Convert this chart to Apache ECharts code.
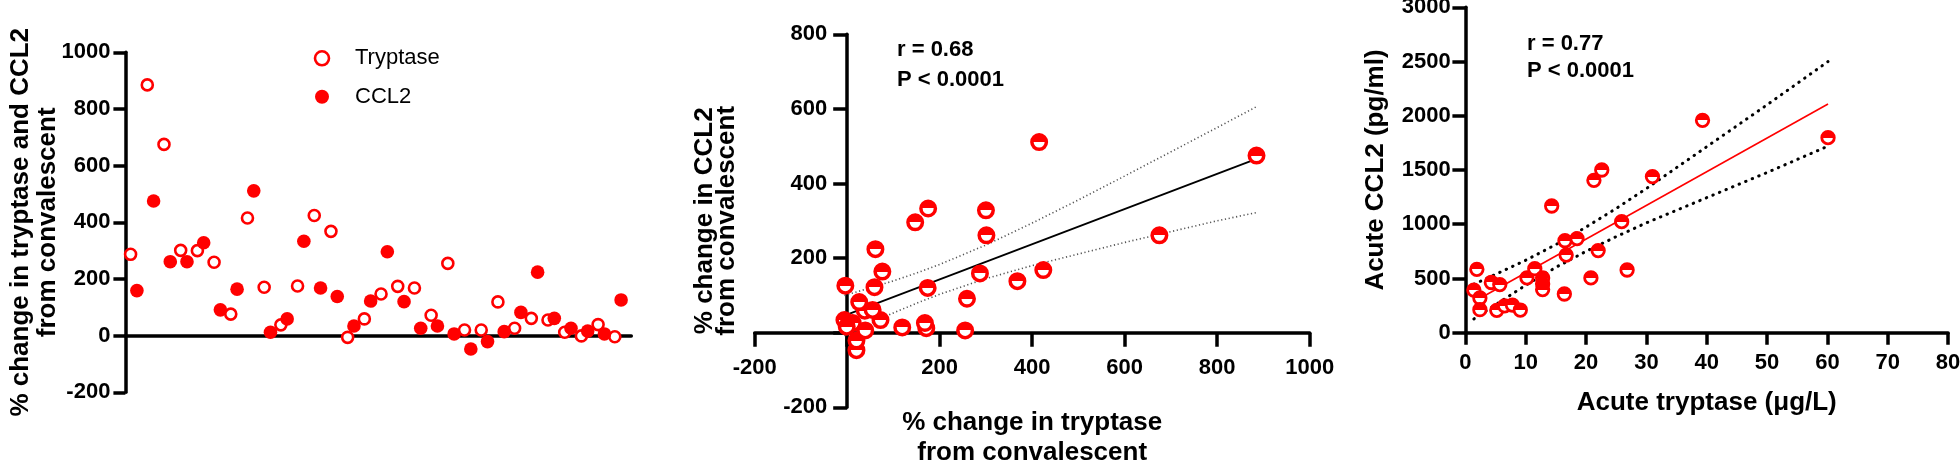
<!DOCTYPE html>
<html>
<head>
<meta charset="utf-8">
<script src="https://cdn.jsdelivr.net/npm/echarts@6/dist/echarts.min.js"></script>
<style>
html,body{margin:0;padding:0;background:#fff;}
#c{width:1960px;height:465px;}
</style>
</head>
<body>
<div id="c"></div>
<script>
// ---------- DATA ----------
const patientIds = [1,2,3,4,5,6,7,8,9,10,11,12,13,14,15,16,17,18,19,20,21,22,23,24,25,26,27,28,29,30];
const tryptasePct = [287, 885, 675, 301, 300, 259, 76, 415, 171, 38, 175, 424, 368, -6, 59, 147, 174, 168, 72, 255, 20, 20, 119, 26, 61, 55, 12, -1, 39, -4];
const ccl2Pct     = [159, 475, 261, 261, 328, 91, 164, 511, 12, 59, 333, 168, 138, 34, 122, 296, 120, 26, 34, 6, -47, -21, 14, 82, 224, 61, 26, 16, 6, 126];

// fit line and 95% band, panel 2
const fit2X = [-6, 885];
const fit2Y = [46, 466];
const band2X     = [-6, 50, 100, 150, 200, 300, 400, 500, 600, 700, 800, 885];
const band2Upper = [100, 120, 139, 160, 183, 235, 294, 356, 420, 485, 550, 606];
const band2Lower = [-8, 25, 53, 79, 103, 145, 180, 211, 242, 271, 300, 322];

// acute values, panel 3
const acuteTryptase = [1.4, 1.9, 2.4, 2.4, 4.3, 5.7, 5.2, 6.5, 7.8, 9.1, 10.2, 11.5, 12.8, 12.8, 12.8, 14.3, 16.4, 16.5, 16.7, 18.5, 20.8, 21.3, 22.0, 22.6, 25.9, 26.8, 31.0, 39.3, 60.1];
const acuteCCL2     = [393, 584, 320, 212, 463, 444, 206, 248, 255, 209, 506, 590, 505, 450, 398, 1168, 357, 848, 716, 868, 505, 1405, 757, 1500, 1024, 578, 1439, 1958, 1798];

const fit3X = [1.4, 60.1];
const fit3Y = [285, 2108];
const band3X     = [1.4, 5, 10, 15, 20, 25, 30, 40, 50, 60.1];
const band3Upper = [447, 538, 668, 813, 974, 1146, 1329, 1715, 2101, 2500];
const band3Lower = [127, 258, 438, 603, 750, 886, 1013, 1245, 1477, 1720];

// axis tick settings
const p1YTicks = {min: -200, max: 1000, interval: 200};
const p2XTicks = {min: -200, max: 1000, interval: 200};
const p2YTicks = {min: -200, max: 800, interval: 200};
const p3XTicks = {min: 0, max: 80, interval: 10};
const p3YTicks = {min: 0, max: 3000, interval: 500};

// ---------- STYLE ----------
const FONT = '"Liberation Sans", Arial, Helvetica, sans-serif';
const RED = '#ff0000';
const halfFill = {
  type: 'linear', x: 0, y: 0, x2: 0, y2: 1,
  colorStops: [
    {offset: 0, color: RED}, {offset: 0.5, color: RED},
    {offset: 0.5, color: '#ffffff'}, {offset: 1, color: '#ffffff'}
  ]
};
const plain = v => String(v);
const hideZero = v => (v === 0 ? '' : String(v));

function lbl(margin, formatter) {
  return {color: '#000', fontSize: 22, fontWeight: 'bold', fontFamily: FONT, margin: margin, formatter: formatter || plain};
}
function nameStyle(lh) {
  return {color: '#000', fontSize: 26, fontWeight: 'bold', fontFamily: FONT, lineHeight: lh};
}
function axisBase(opts) {
  return Object.assign({
    type: 'value',
    splitLine: {show: false},
    nameMoveOverlap: false,
    axisLine: {show: true, onZero: false, lineStyle: {color: '#000', width: 3.5}},
    axisTick: {show: true, length: 12, lineStyle: {color: '#000', width: 3.5}},
    axisLabel: lbl(15)
  }, opts);
}

const option = {
  animation: false,
  backgroundColor: '#ffffff',
  textStyle: {fontFamily: FONT},
  title: [
    {text: 'r = 0.68\nP < 0.0001', left: 897, top: 35.4, padding: 0,
     textStyle: {fontSize: 22, fontWeight: 'bold', color: '#000', lineHeight: 30, fontFamily: FONT}},
    {text: 'r = 0.77\nP < 0.0001', left: 1527, top: 31, padding: 0,
     textStyle: {fontSize: 22, fontWeight: 'bold', color: '#000', lineHeight: 26.7, fontFamily: FONT}}
  ],
  legend: {
    orient: 'vertical', left: 313.7, top: 47.3, padding: 0,
    itemWidth: 14, itemHeight: 14, itemGap: 16.4,
    selectedMode: false,
    textStyle: {fontSize: 22, lineHeight: 22, color: '#000', fontFamily: FONT, padding: [0, 0, 0, 21]},
    data: [
      {name: 'Tryptase', icon: 'circle', itemStyle: {color: '#fff', borderColor: RED, borderWidth: 2.6}},
      {name: 'CCL2', icon: 'circle', itemStyle: {color: RED, borderWidth: 0}}
    ]
  },
  grid: [
    {left: 125.4, top: 52.3, width: 505.9, height: 340, containLabel: false, outerBoundsMode: 'none'},
    {left: 754.7, top: 34.3, width: 555, height: 373, containLabel: false, outerBoundsMode: 'none'},
    {left: 1465.4, top: 7.3, width: 482.7, height: 325.4, containLabel: false, outerBoundsMode: 'none'}
  ],
  xAxis: [
    axisBase({gridIndex: 0, min: 0.5, max: 30.8,
      axisLine: {show: true, onZero: true, lineStyle: {color: '#000', width: 3.5}},
      axisTick: {show: false}, axisLabel: {show: false}}),
    // labels / name of this axis are laid out from the grid bottom; margins account for the zero-crossing line
    axisBase(Object.assign({gridIndex: 1}, p2XTicks, {
      axisLine: {show: true, onZero: true, lineStyle: {color: '#000', width: 3.5}},
      axisTick: {show: true, length: 14, lineStyle: {color: '#000', width: 3.5}},
      axisLabel: lbl(-50.6, hideZero),
      name: '% change in tryptase\nfrom convalescent', nameLocation: 'middle', nameGap: 0.4,
      nameTextStyle: nameStyle(30)})),
    axisBase(Object.assign({gridIndex: 2}, p3XTicks, {
      axisLabel: lbl(19),
      name: 'Acute tryptase (\u03bcg/L)', nameLocation: 'middle', nameGap: 55,
      nameTextStyle: nameStyle(30)}))
  ],
  yAxis: [
    axisBase(Object.assign({gridIndex: 0}, p1YTicks, {
      axisLabel: lbl(15),
      name: '% change in tryptase and CCL2\nfrom convalescent', nameLocation: 'middle', nameRotate: 90, nameGap: 64,
      nameTextStyle: nameStyle(27)})),
    axisBase(Object.assign({gridIndex: 1}, p2YTicks, {
      axisLine: {show: true, onZero: true, lineStyle: {color: '#000', width: 3.5}},
      axisTick: {show: true, length: 14, lineStyle: {color: '#000', width: 3.5}},
      axisLabel: lbl(-72.6, hideZero),
      name: '% change in CCL2\nfrom convalescent', nameLocation: 'middle', nameRotate: 90, nameGap: 16.7,
      nameTextStyle: nameStyle(22.4)})),
    axisBase(Object.assign({gridIndex: 2}, p3YTicks, {
      axisTick: {show: true, length: 13, lineStyle: {color: '#000', width: 3.5}},
      axisLabel: lbl(14.7),
      name: 'Acute CCL2 (pg/ml)', nameLocation: 'middle', nameRotate: 90, nameGap: 75,
      nameTextStyle: nameStyle(30)}))
  ],
  series: [
    // panel 1
    {type: 'scatter', name: 'Tryptase', xAxisIndex: 0, yAxisIndex: 0, z: 3,
     data: patientIds.map((p, i) => [p, tryptasePct[i]]),
     symbol: 'circle', symbolSize: 11, symbolOffset: [-3.15, 0],
     itemStyle: {color: '#fff', borderColor: RED, borderWidth: 2.6, opacity: 1}},
    {type: 'scatter', name: 'CCL2', xAxisIndex: 0, yAxisIndex: 0, z: 3,
     data: patientIds.map((p, i) => [p, ccl2Pct[i]]),
     symbol: 'circle', symbolSize: 13.6, symbolOffset: [3.15, 0],
     itemStyle: {color: RED, opacity: 1}},
    // panel 2
    {type: 'line', xAxisIndex: 1, yAxisIndex: 1, z: 2, silent: true, symbol: 'none',
     data: band2X.map((x, i) => [x, band2Upper[i]]),
     lineStyle: {color: '#555', width: 1.6, type: [1.2, 2.6]}},
    {type: 'line', xAxisIndex: 1, yAxisIndex: 1, z: 2, silent: true, symbol: 'none',
     data: band2X.map((x, i) => [x, band2Lower[i]]),
     lineStyle: {color: '#555', width: 1.6, type: [1.2, 2.6]}},
    {type: 'line', xAxisIndex: 1, yAxisIndex: 1, z: 2, silent: true, symbol: 'none',
     data: fit2X.map((x, i) => [x, fit2Y[i]]),
     lineStyle: {color: '#000', width: 1.8}},
    {type: 'scatter', xAxisIndex: 1, yAxisIndex: 1, z: 3,
     data: tryptasePct.map((t, i) => [t, ccl2Pct[i]]),
     symbol: 'circle', symbolSize: 14.5,
     itemStyle: {color: halfFill, borderColor: RED, borderWidth: 3.5, opacity: 1}},
    // panel 3
    {type: 'line', xAxisIndex: 2, yAxisIndex: 2, z: 2, silent: true, symbol: 'none',
     data: band3X.map((x, i) => [x, band3Upper[i]]),
     lineStyle: {color: '#000', width: 3, type: [0.5, 6.6], cap: 'round'}},
    {type: 'line', xAxisIndex: 2, yAxisIndex: 2, z: 2, silent: true, symbol: 'none',
     data: band3X.map((x, i) => [x, band3Lower[i]]),
     lineStyle: {color: '#000', width: 3, type: [0.5, 6.6], cap: 'round'}},
    {type: 'line', xAxisIndex: 2, yAxisIndex: 2, z: 2, silent: true, symbol: 'none',
     data: fit3X.map((x, i) => [x, fit3Y[i]]),
     lineStyle: {color: RED, width: 1.6}},
    {type: 'scatter', xAxisIndex: 2, yAxisIndex: 2, z: 3,
     data: acuteTryptase.map((t, i) => [t, acuteCCL2[i]]),
     symbol: 'circle', symbolSize: 12.5,
     itemStyle: {color: halfFill, borderColor: RED, borderWidth: 2.8, opacity: 1}}
  ]
};

const chart = echarts.init(document.getElementById('c'), null, {renderer: 'canvas', width: 1960, height: 465});
chart.setOption(option);
</script>
</body>
</html>
